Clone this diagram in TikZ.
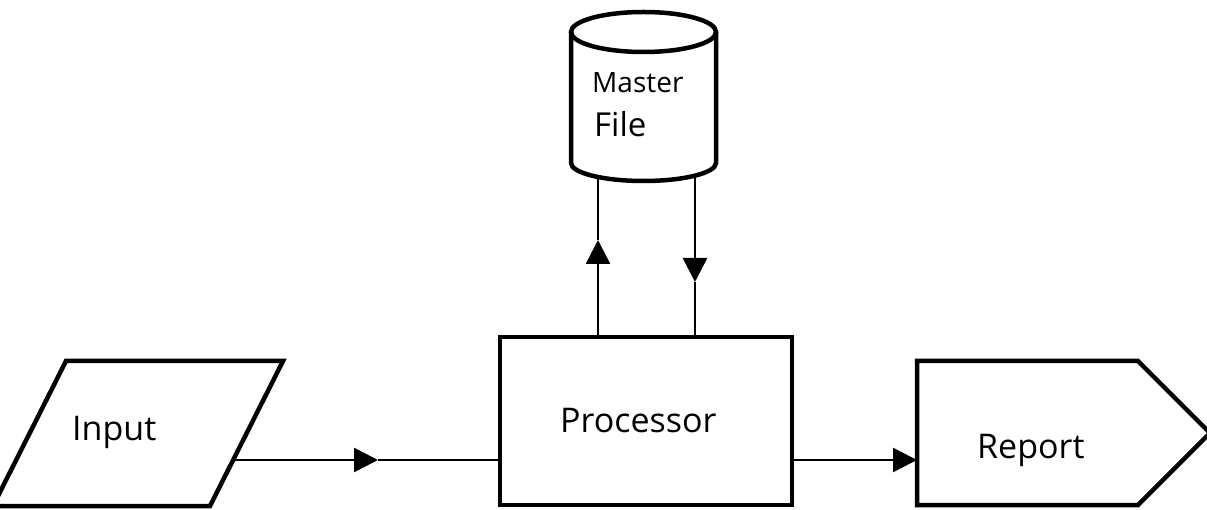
\documentclass[tikz,border=0pt]{standalone}
\usepackage{fontspec}
\setmainfont{Open Sans}
\usetikzlibrary{arrows.meta}

\tikzset{
  shapeline/.style={line width=4.5pt, line join=miter},
  flowline/.style={line width=2.6pt},
  headtip/.style={-{Triangle[length=24pt,width=24pt]}},
  labeltext/.style={inner sep=0pt, anchor=base west, font=\fontsize{34}{40}\selectfont},
}

\begin{document}
\begin{tikzpicture}[x=1pt, y=-1pt]
  \useasboundingbox (0,0) rectangle (1207,510);
  \clip (0,0) rectangle (1207,510);

  % Input: parallelogram (its lower left corner runs off the page)
  \draw[shapeline] (66,361) -- (283,361) -- (210,506) -- (-7,506) -- cycle;
  \coordinate (inR) at (234,460);
  \node[labeltext] (input) at (72,440) {Input};

  % Processor: rectangle
  \draw[shapeline] (500,337) rectangle (792,505);
  \coordinate (procL)  at (500,460);
  \coordinate (procR)  at (792,460);
  \coordinate (procTL) at (598,337);
  \coordinate (procTR) at (695,337);
  \node[labeltext] (processor) at (560,432) {Processor};

  % Report: document pointing to the right
  \draw[shapeline] (917,361) -- (1138,361) -- (1210,433) -- (1138,505) -- (917,505) -- cycle;
  \coordinate (repL) at (917,460);
  \node[labeltext] (report) at (977,458) {Report};

  % Master File: cylinder (radii in pt, so arcs follow page orientation)
  \draw[shapeline] (643.5,32) ellipse [x radius=72.5pt, y radius=20pt];
  \draw[shapeline] (571,32) -- (571,163)
    arc[start angle=180, end angle=360, x radius=72.5pt, y radius=18pt] -- (716,32);
  \coordinate (cylL) at (598,178);
  \coordinate (cylR) at (695,178);
  \node[labeltext, font=\fontsize{28}{32}\selectfont] (master) at (592,93) {Master};
  \node[labeltext, font=\fontsize{33}{40}\selectfont] (file) at (594,137) {File};

  % Input to Processor, with the arrowhead halfway along
  \coordinate (inMid) at (378,460);
  \draw[flowline, headtip] (inR) -- (inMid);
  \draw[flowline] (inMid) -- (procL);

  % Processor to Report
  \draw[flowline, headtip] (procR) -- (repL);

  % Processor writes to Master File
  \coordinate (upMid) at (598,240);
  \draw[flowline, headtip] (procTL) -- (upMid);
  \draw[flowline] (upMid) -- (cylL);

  % Master File read by Processor
  \coordinate (downMid) at (695,282);
  \draw[flowline, headtip] (cylR) -- (downMid);
  \draw[flowline] (downMid) -- (procTR);
\end{tikzpicture}
\end{document}
